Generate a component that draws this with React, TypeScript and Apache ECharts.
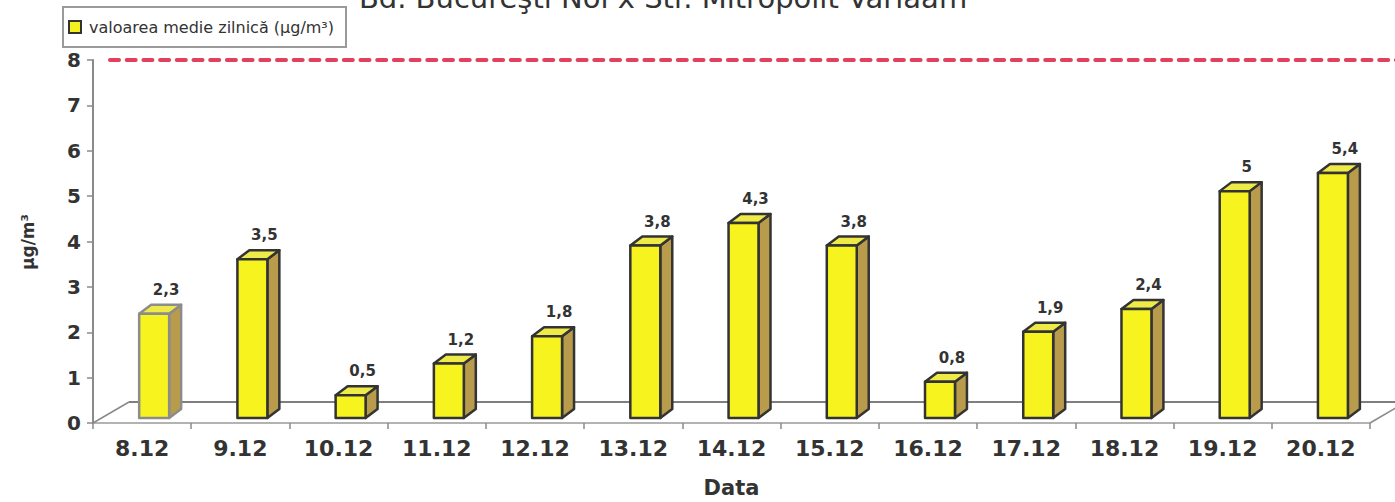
import React, { useEffect, useRef } from "react";
import * as echarts from "echarts";

const categories = ["8.12", "9.12", "10.12", "11.12", "12.12", "13.12", "14.12", "15.12", "16.12", "17.12", "18.12", "19.12", "20.12"];
const values = [2.3, 3.5, 0.5, 1.2, 1.8, 3.8, 4.3, 3.8, 0.8, 1.9, 2.4, 5, 5.4];
const yMin = 0;
const yMax = 8;
const yInterval = 1;
const limitValue = 8;
const seriesName = "valoarea medie zilnică (µg/m³)";
const titleText = "Bd. Bucureşti Noi x Str. Mitropolit Varlaam";
const xName = "Data";
const yName = "µg/m³";

const FONT = "'DejaVu Sans', sans-serif";
const TEXT = "#333333";

export default function App() {
  const ref = useRef<HTMLDivElement>(null);
  useEffect(() => {
    document.body.style.margin = "0";
    const chart = echarts.init(ref.current!, undefined, { renderer: "svg" });
    const option: any = {
      animation: false,
      backgroundColor: "#ffffff",
      grid: { left: 93, right: 25, top: 60, bottom: 79, containLabel: false },
      legend: {
        left: 63,
        top: 7,
        orient: "horizontal",
        padding: [12, 12, 12, 5],
        borderColor: "#9a9a9a",
        borderWidth: 2,
        backgroundColor: "#ffffff",
        itemWidth: 12,
        itemHeight: 12,
        icon: "rect",
        textStyle: { color: TEXT, fontSize: 16, fontFamily: FONT, padding: [0, 0, 0, 3] },
        data: [seriesName],
      },
      xAxis: {
        type: "category",
        data: categories,
        boundaryGap: true,
        axisLine: { show: true, lineStyle: { color: "#9a9a9a", width: 1.5 } },
        axisTick: { show: true, alignWithLabel: false, length: 6, lineStyle: { color: "#8a8a8a", width: 1.5 } },
        axisLabel: { color: TEXT, fontSize: 22, fontWeight: "bold", fontFamily: FONT, margin: 14 },
        splitLine: { show: false },
      },
      yAxis: {
        type: "value",
        min: yMin,
        max: yMax,
        interval: yInterval,
        axisLine: { show: true, lineStyle: { color: "#8a8a8a", width: 2 } },
        axisTick: { show: true, length: 6, lineStyle: { color: "#8a8a8a", width: 1.5 } },
        axisLabel: { color: TEXT, fontSize: 20, fontWeight: "bold", fontFamily: FONT, margin: 12 },
        splitLine: { show: false },
      },
      series: [
        {
          name: seriesName,
          type: "custom",
          itemStyle: { color: "#f5f01e", borderColor: "#333333", borderWidth: 1.5 },
          encode: { x: 0, y: 1 },
          data: values.map((v, i) => [i, v]),
          renderItem: (params: any, api: any) => {
            const i = api.value(0);
            const v = api.value(1);
            const top = api.coord([i, v]);
            const base = api.coord([i, 0]);
            const band = api.size([1, 0])[0];
            const w = band * 0.305;
            const x0 = top[0] - band * 0.03;
            const dx = band * 0.122;
            const dy = 9;
            const lift = 5;
            const yb = base[1] - lift;
            const yt = top[1] - lift;
            const stroke = params.dataIndex === 0 ? "#8c8c8c" : "#333333";
            const lw = 2.5;
            return {
              type: "group",
              children: [
                {
                  type: "polygon",
                  shape: { points: [[x0 + w, yb], [x0 + w + dx, yb - dy], [x0 + w + dx, yt - dy], [x0 + w, yt]] },
                  style: { fill: "#b89c4c", stroke, lineWidth: lw, lineJoin: "round" },
                },
                {
                  type: "polygon",
                  shape: { points: [[x0, yt], [x0 + dx, yt - dy], [x0 + w + dx, yt - dy], [x0 + w, yt]] },
                  style: { fill: "#eeea48", stroke, lineWidth: lw, lineJoin: "round" },
                },
                {
                  type: "rect",
                  shape: { x: x0, y: yt, width: w, height: yb - yt },
                  style: { fill: "#f7f31e", stroke, lineWidth: lw, lineJoin: "round" },
                },
                {
                  type: "text",
                  x: x0 + w * 0.5 + dx,
                  y: yt - 24,
                  style: {
                    text: String(v).replace(".", ","),
                    fill: TEXT,
                    font: `bold 15px ${FONT}`,
                    align: "center",
                    verticalAlign: "middle",
                  },
                },
              ],
            };
          },
          z: 3,
        },
      ],
    };
    chart.setOption(option);

    const cx0 = chart.convertToPixel({ xAxisIndex: 0 }, 0) as number;
    const cx1 = chart.convertToPixel({ xAxisIndex: 0 }, 1) as number;
    const band = cx1 - cx0;
    const left = cx0 - band / 2;
    const right = left + band * categories.length;
    const y0 = chart.convertToPixel({ yAxisIndex: 0 }, 0) as number;
    const yLim = chart.convertToPixel({ yAxisIndex: 0 }, limitValue) as number;
    const ddx = 36;
    const ddy = 21;

    chart.setOption({
      graphic: [
        {
          type: "line",
          z: 1,
          shape: { x1: left + ddx, y1: y0 - ddy, x2: 1400, y2: y0 - ddy },
          style: { stroke: "#555555", lineWidth: 1.5 },
        },
        {
          type: "line",
          z: 1,
          shape: { x1: left, y1: y0, x2: left + ddx, y2: y0 - ddy },
          style: { stroke: "#8a8a8a", lineWidth: 1.5 },
        },
        {
          type: "line",
          z: 1,
          shape: { x1: right, y1: y0, x2: right + ddx, y2: y0 - ddy },
          style: { stroke: "#8a8a8a", lineWidth: 1.5 },
        },
        {
          type: "line",
          z: 1,
          shape: { x1: left + 17, y1: yLim, x2: 1400, y2: yLim },
          style: { stroke: "#e2405e", lineWidth: 4, lineDash: [9, 7.7], lineCap: "round" },
        },
        {
          type: "text",
          x: 663,
          y: -2,
          style: { text: titleText, fill: TEXT, font: `29px ${FONT}`, align: "center", verticalAlign: "middle" },
        },
        {
          type: "text",
          x: 28,
          y: 242,
          rotation: Math.PI / 2,
          style: { text: yName, fill: TEXT, font: `bold 17px ${FONT}`, align: "center", verticalAlign: "middle" },
        },
        {
          type: "text",
          x: (left + right) / 2,
          y: 488,
          style: { text: xName, fill: TEXT, font: `bold 21px ${FONT}`, align: "center", verticalAlign: "middle" },
        },
      ],
    });

    return () => chart.dispose();
  }, []);
  return <div ref={ref} style={{ width: 1395, height: 502 }} />;
}
